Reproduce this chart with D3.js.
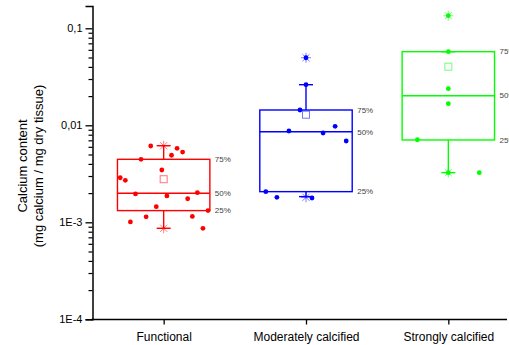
<!DOCTYPE html>
<html><head><meta charset="utf-8">
<script src="https://cdn.jsdelivr.net/npm/d3@7"></script>
<style>body{margin:0;background:#fff}svg{display:block}text{font-family:"Liberation Sans",Arial,sans-serif}</style>
</head><body><svg id="c" width="509" height="345"></svg>
<script>
const categories = ["Functional", "Moderately calcified", "Strongly calcified"];
const colors = ["#ff0000", "#0000ff", "#00ff00"];
const values = [
  [0.00612,0.00579,0.00530,0.00491,0.00446,0.00346,0.00288,0.00271,0.00196,0.00187,0.00202,0.00175,0.00145,0.00132,0.00101,0.00114,0.00115,0.000867],
  [0.01438,0.02622,0.00873,0.00833,0.00976,0.00689,0.00207,0.00181,0.00178,0.0497],
  [0.0574,0.02384,0.0167,0.0071,0.00325,0.00325,0.1349]
];
// horizontal jitter of each point, as a fraction of the half box width
const jitter = [
  [-0.28,0.29,0.41,0.17,-0.49,-0.04,-0.94,-0.83,-0.61,0.07,0.73,0.52,-0.16,0.96,-0.72,-0.38,0.62,0.85],
  [-0.13,0.0,-0.37,0.37,0.63,0.87,-0.87,-0.63,0.13,0.0],
  [0,0,0,-0.67,0,0.67,0]
];
const q1 = [0.00132, 0.00207, 0.00706];
const median = [0.00199, 0.00859, 0.0202];
const q3 = [0.00446, 0.01438, 0.0574];
const whiskerLow = [0.000867, 0.00184, 0.00325];
const whiskerHigh = [0.00616, 0.02622, 0.0574];
const means = [0.00278, 0.01286, 0.0402];
const starMin = [0.000867, 0.00181, 0.00325];
const starMax = [0.00616, 0.0497, 0.1349];
const yMajorTicks = [0.1, 0.01, 0.001, 0.0001];
const yTickLabels = ["0,1", "0,01", "1E-3", "1E-4"];
const pctLabels = ["25%", "50%", "75%"];

const svg = d3.select("#c");
const x = d3.scalePoint().domain(categories).range([92.5, 519.5]).padding(0.5);
const y = d3.scaleLog().domain([1e-4, 0.17]).range([319.3, 5.95]);
const boxW = 92.4, capW = 14;

// y axis
const yAxis = d3.axisLeft(y).tickValues(yMajorTicks).tickSize(7).tickPadding(3)
  .tickFormat((d,i) => yTickLabels[yMajorTicks.indexOf(d)]);
const ga = svg.append("g").attr("transform","translate(92.5,0)").call(yAxis);
ga.select(".domain").attr("stroke-width",1.5);
ga.selectAll(".tick line").attr("stroke-width",1.3);
ga.selectAll("text").attr("font-size",11).attr("fill","#000");
const minor = [];
[1e-4,1e-3,1e-2].forEach(dec => { for (let k=2;k<=9;k++) minor.push(dec*k); });
const gm = svg.append("g").attr("transform","translate(92.5,0)")
  .call(d3.axisLeft(y).tickValues(minor).tickSize(4).tickFormat(""));
gm.select(".domain").remove();
gm.selectAll(".tick line").attr("stroke-width",1.2);

// x axis
const gx = svg.append("g").attr("transform","translate(0,319.5)")
  .call(d3.axisBottom(x).tickSize(5).tickPadding(8));
gx.select(".domain").remove();
gx.append("line").attr("x1",x.range()[0]-1).attr("x2",507).attr("stroke","#000").attr("stroke-width",1.5);
gx.selectAll(".tick line").attr("stroke-width",1.3);
gx.selectAll("text").attr("font-size",12).attr("fill","#000");

// y title
const tt = svg.append("g").attr("transform","translate(27,166) rotate(-90)");
tt.append("text").attr("text-anchor","middle").attr("font-size",13).text("Calcium content");
tt.append("text").attr("text-anchor","middle").attr("font-size",13).attr("y",16).text("(mg calcium / mg dry tissue)");

function starPath(cx, cy, r) {
  const d = r*0.72;
  return `M${cx-r},${cy}L${cx+r},${cy}M${cx},${cy-r}L${cx},${cy+r}M${cx-d},${cy-d}L${cx+d},${cy+d}M${cx-d},${cy+d}L${cx+d},${cy-d}`;
}

categories.forEach((cat, i) => {
  const cx = x(cat), c = colors[i];
  const g = svg.append("g");
  // whiskers
  g.append("line").attr("x1",cx).attr("x2",cx).attr("y1",y(q3[i])).attr("y2",y(whiskerHigh[i])).attr("stroke",c).attr("stroke-width",1.4);
  g.append("line").attr("x1",cx).attr("x2",cx).attr("y1",y(q1[i])).attr("y2",y(whiskerLow[i])).attr("stroke",c).attr("stroke-width",1.4);
  [whiskerHigh[i], whiskerLow[i]].forEach(v => {
    g.append("line").attr("x1",cx-capW/2).attr("x2",cx+capW/2).attr("y1",y(v)).attr("y2",y(v)).attr("stroke",c).attr("stroke-width",1.4);
  });
  // box
  g.append("rect").attr("x",cx-boxW/2).attr("width",boxW).attr("y",y(q3[i])).attr("height",y(q1[i])-y(q3[i]))
    .attr("fill","none").attr("stroke",c).attr("stroke-width",1.4);
  g.append("line").attr("x1",cx-boxW/2).attr("x2",cx+boxW/2).attr("y1",y(median[i])).attr("y2",y(median[i])).attr("stroke",c).attr("stroke-width",1.4);
  // labels
  [q1[i], median[i], q3[i]].forEach((v,k) => {
    g.append("text").attr("x",cx+boxW/2+5).attr("y",y(v)).attr("dy","0.35em").attr("font-size",8).attr("fill","#444").text(pctLabels[k]);
  });
  // mean
  g.append("rect").attr("x",cx-3.5).attr("y",y(means[i])-3.5).attr("width",7).attr("height",7)
    .attr("fill","none").attr("stroke",c).attr("stroke-opacity",0.55).attr("stroke-width",1);
  // stars
  [starMin[i], starMax[i]].forEach(v => {
    g.append("path").attr("d",starPath(cx,y(v),5)).attr("stroke",c).attr("stroke-opacity",0.5).attr("stroke-width",1).attr("fill","none");
  });
  // points
  g.selectAll("circle.p").data(values[i]).join("circle").attr("class","p")
    .attr("cx",(d,k)=>cx + jitter[i][k]*boxW/2).attr("cy",d=>y(d)).attr("r",2.4).attr("fill",c);
});
</script></body></html>
